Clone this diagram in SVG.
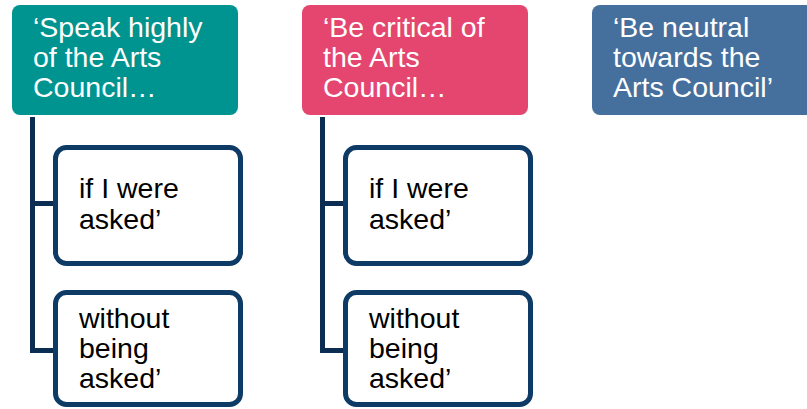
<svg xmlns="http://www.w3.org/2000/svg" width="807" height="409" viewBox="0 0 807 409">
  <style>
    text { font-family: "Liberation Sans", Arial, sans-serif; font-size: 28.5px; }
    .head text { fill: #ffffff; }
    .teal { fill: #009490; }
    .pink { fill: #E4466F; }
    .blue { fill: #45709D; }
    .child rect { fill: #ffffff; stroke: #0E3A66; stroke-width: 5; }
    .child text { fill: #000000; }
    .link { fill: none; stroke: #0C2D52; stroke-width: 5; stroke-linecap: butt; stroke-linejoin: miter; }
  </style>
  <rect width="807" height="409" fill="#ffffff"/>

  <!-- connectors from each heading down to its sub-items -->
  <g id="connectors">
    <path class="link" d="M32.5,117 V350.5 H56"/>
    <path class="link" d="M32.5,203.5 H56"/>
    <path class="link" d="M322.5,117 V350.5 H346"/>
    <path class="link" d="M322.5,203.5 H346"/>
  </g>

  <!-- column 1 -->
  <g id="speak-highly" class="head">
    <rect class="teal" x="12" y="5" width="226" height="110" rx="8"/>
    <text x="33" y="37">‘Speak highly</text>
    <text x="33" y="67">of the Arts</text>
    <text x="33" y="97">Council…</text>
  </g>
  <g id="speak-if-asked" class="child">
    <rect x="55.5" y="147.5" width="185" height="116" rx="11"/>
    <text x="79" y="198">if I were</text>
    <text x="79" y="229">asked’</text>
  </g>
  <g id="speak-unasked" class="child">
    <rect x="55.5" y="292.5" width="185" height="112" rx="11"/>
    <text x="79" y="328">without</text>
    <text x="79" y="358">being</text>
    <text x="79" y="388">asked’</text>
  </g>

  <!-- column 2 -->
  <g id="be-critical" class="head">
    <rect class="pink" x="302" y="5" width="226" height="110" rx="8"/>
    <text x="323" y="37">‘Be critical of</text>
    <text x="323" y="67">the Arts</text>
    <text x="323" y="97">Council…</text>
  </g>
  <g id="critical-if-asked" class="child">
    <rect x="345.5" y="147.5" width="185" height="116" rx="11"/>
    <text x="369" y="198">if I were</text>
    <text x="369" y="229">asked’</text>
  </g>
  <g id="critical-unasked" class="child">
    <rect x="345.5" y="292.5" width="185" height="112" rx="11"/>
    <text x="369" y="328">without</text>
    <text x="369" y="358">being</text>
    <text x="369" y="388">asked’</text>
  </g>

  <!-- column 3 -->
  <g id="be-neutral" class="head">
    <rect class="blue" x="592" y="5" width="230" height="110" rx="8"/>
    <text x="613" y="37">‘Be neutral</text>
    <text x="613" y="67">towards the</text>
    <text x="613" y="97">Arts Council’</text>
  </g>
</svg>
